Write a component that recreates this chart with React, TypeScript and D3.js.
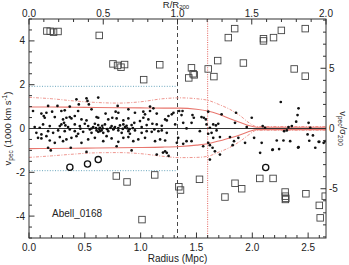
import React from "react";
import * as d3 from "d3";

// ---------- data ----------
const R200 = 1.33; // Mpc
const SIGMA200 = 0.55; // 1000 km/s
const xMaxMpc = 2.66;

const memberR = [
  0.425, 0.515, 0.524, 0.62,
  0.171, 0.255, 0.365, 0.446, 0.536, 0.794, 1.084, 1.114,
  0.036, 0.111, 0.132, 0.156, 0.207, 0.29, 0.32, 0.44, 0.56, 0.686, 0.776, 0.8, 0.89, 0.949, 1.024, 1.039, 1.084, 1.144, 1.249, 1.279, 1.294,
  0.141, 0.231, 0.305, 0.335, 0.365, 0.38, 0.41, 0.47, 0.515, 0.605, 0.62, 0.71, 0.746, 0.785, 0.845, 0.89, 0.994, 1.024, 1.069, 1.219, 1.234,
  0.051, 0.096, 0.126, 0.186, 0.276, 0.29, 0.314, 0.326, 0.35, 0.41, 0.455, 0.5, 0.53, 0.575, 0.59, 0.62, 0.635, 0.656, 0.68, 0.74, 0.77, 0.815, 0.845, 0.86, 0.874, 0.919, 0.943, 1.009, 1.054, 1.105, 1.144, 1.189, 1.309,
  0.60, 0.63, 0.66, 0.70, 0.73, 0.76, 0.80, 0.84, 0.88, 0.90, 0.93, 0.56, 0.46,
  0.066, 0.111, 0.171, 0.216, 0.261, 0.32, 0.365, 0.41, 0.44, 0.485, 0.545, 0.56, 0.605, 0.62, 0.635, 0.65, 0.665, 0.71, 0.755, 0.8, 0.83, 0.89, 0.904, 0.949, 1.009, 1.054, 1.099, 1.123, 1.159, 1.189, 1.234,
  0.081, 0.111, 0.156, 0.186, 0.231, 0.276, 0.305, 0.335, 0.38, 0.425, 0.47, 0.53, 0.59, 0.665, 0.695, 0.74, 0.8, 0.845, 0.89, 0.934, 0.979, 1.039, 1.129, 1.174, 1.219, 1.324,
  0.171, 0.195, 0.374, 0.515, 0.785, 0.919, 1.144, 1.219, 1.234, 1.25, 1.20,
  1.345, 1.375, 1.366, 1.381, 1.336, 1.381, 1.411, 1.464, 1.476, 1.456, 1.411, 1.456,
  1.545, 1.566, 1.584, 1.605, 1.59, 1.62, 1.65, 1.674, 1.695, 1.725, 1.53, 1.635, 1.605, 1.68, 1.71, 1.65,
  1.56, 1.605, 1.62, 1.644, 1.665, 1.62, 1.80, 1.836, 1.824, 1.875, 1.71,
  1.854, 1.845, 1.95, 1.995, 2.016, 1.935, 2.093, 2.114, 2.07, 2.084,
  2.255, 2.414, 2.405, 2.393, 2.354, 2.324, 2.309, 2.285, 2.219, 2.279, 2.339, 2.183, 2.414,
  2.504, 2.519, 2.495, 2.543, 2.594, 2.639, 2.653, 2.564, 2.18, 2.24, 2.41, 2.51, 2.60,
];
const memberV = [
  1.33, 1.38, 1.26, 1.41,
  1.03, 1.03, 1.0, 1.10, 1.10, 1.03, 1.0, 0.92,
  0.80, 0.68, 0.57, 0.72, 0.77, 0.80, 0.83, 0.80, 0.875, 0.68, 0.77, 0.72, 0.875, 0.72, 0.77, 0.645, 0.80, 0.68, 0.57, 0.645, 0.72,
  0.49, 0.52, 0.415, 0.49, 0.52, 0.46, 0.57, 0.415, 0.37, 0.52, 0.49, 0.415, 0.49, 0.46, 0.37, 0.46, 0.34, 0.49, 0.415, 0.415, 0.37,
  0.064, 0.034, 0.187, 0.11, 0.11, 0.187, 0.26, 0.14, 0.064, 0.187, 0.11, 0.217, 0.11, 0.064, 0.217, 0.156, 0.034, 0.125, 0.187, 0.11, 0.064, 0.14, 0.187, 0.064, 0.125, 0.156, 0.26, 0.064, 0.156, 0.217, 0.187, 0.125, 0.187,
  0.02, -0.02, 0.01, -0.03, 0.03, -0.01, 0.02, -0.02, 0.01, -0.03, 0.02, 0.0, -0.01,
  -0.196, -0.27, -0.12, -0.196, -0.089, -0.12, -0.043, -0.12, -0.24, -0.15, -0.043, -0.196, -0.089, -0.15, -0.12, -0.089, -0.196, -0.12, -0.043, -0.089, -0.196, -0.12, -0.24, -0.089, -0.196, -0.12, -0.15, -0.043, -0.12, -0.089, -0.196,
  -0.425, -0.455, -0.35, -0.547, -0.655, -0.39, -0.58, -0.50, -0.425, -0.35, -0.655, -0.50, -0.425, -0.58, -0.35, -0.455, -0.61, -0.425, -0.39, -0.58, -0.50, -0.425, -0.58, -0.50, -0.547, -0.655,
  -0.88, -1.0, -0.88, -1.07, -0.81, -1.0, -1.19, -1.04, -1.11, -1.25, -1.10,
  0.80, 0.80, 0.615, 0.26, -0.425, -0.70, -0.58, 0.615, 0.49, 0.26, 0.003, -0.58,
  0.52, 0.49, 0.415, 0.77, 0.187, 0.034, 0.187, 0.14, 0.217, 0.645, -0.12, -0.196, -0.24, -0.089, -0.39, -0.425,
  -0.81, -0.655, -0.76, -0.88, -1.04, -1.42, -0.39, -0.58, -0.76, -0.425, -1.19,
  0.72, 0.26, 0.064, 0.49, -0.425, -0.655, 0.11, 0.034, -1.11, -0.655,
  1.21, 0.92, 0.615, 0.31, 0.11, 0.064, -0.089, -0.12, -0.547, -0.547, -0.58, -0.96, -0.855,
  0.26, 0.034, -0.27, -0.317, -0.61, -0.655, -0.58, -0.88, -0.98, -0.94, -0.87, -0.56, -0.61,
];

const squareR = [
  0.16, 0.19, 0.22, 0.26, 0.629, 0.752, 0.793, 0.824, 0.856, 1.027, 1.171,
  1.431, 1.455, 1.47, 1.48, 1.605, 1.656, 1.69, 1.785, 1.842, 1.92, 2.1, 2.1, 2.19, 2.26, 2.375, 2.474, 2.474,
  0.782, 0.878, 1.126, 1.012, 1.342, 1.357, 1.527, 1.755, 1.845, 1.905, 2.067, 2.186, 2.294, 2.296, 2.296, 2.3, 2.48, 2.6, 2.608, 2.653,
];
const squareV = [
  4.45, 4.44, 4.4, 4.43, 4.25, 2.95, 2.88, 2.8, 2.92, 2.23, 2.91,
  2.31, 2.77, 2.5, 2.45, 2.72, 2.37, 3.1, 4.15, 4.56, 2.99, 4.1, 4.0, 4.15, 4.48, 2.72, 4.56, 2.39,
  -2.17, -2.44, -2.12, -4.16, -2.66, -2.81, -2.32, -3.13, -2.5, -2.75, -2.28, -2.28, -2.9, -3.09, -3.24, -3.19, -2.98, -3.51, -4.08, -3.09,
];

const circleR = [0.366, 0.524, 0.62, 2.12];
const circleV = [-1.77, -1.62, -1.42, -1.78];

const causticR = [0, 0.2, 0.4, 0.6, 0.8, 1.0, 1.2, 1.35, 1.5, 1.6, 1.7, 1.8, 1.9, 1.97, 2.04, 2.66];
const solidUpper = [0.98, 0.98, 0.97, 0.96, 0.95, 0.94, 0.93, 0.93, 0.88, 0.80, 0.65, 0.45, 0.26, 0.13, 0.06, 0.06];
const solidLower = [-0.92, -0.91, -0.9, -0.89, -0.88, -0.87, -0.85, -0.82, -0.76, -0.70, -0.57, -0.43, -0.27, -0.14, -0.05, -0.05];
const dashUpper = [1.42, 1.36, 1.26, 1.19, 1.16, 1.22, 1.36, 1.40, 1.36, 1.29, 1.10, 0.87, 0.55, 0.26, 0.09, 0.09];
const dashLower = [-1.32, -1.25, -1.17, -1.11, -1.10, -1.15, -1.27, -1.33, -1.32, -1.27, -1.08, -0.86, -0.55, -0.28, -0.08, -0.08];

const sigmaLimit = 3.5; // in sigma200 units
const escapeR = 1.6; // Mpc, red dotted line

const bottomTicks = [0, 0.5, 1.0, 1.5, 2.0, 2.5];
const topTicks = [0, 0.5, 1.0, 1.5, 2.0];
const leftTicks = [-4, -2, 0, 2, 4];
const rightTicks = [-5, 0, 5];

// ---------- layout ----------
const W = 349, H = 265;
const L = 29, Rt = 326, T = 19, B = 238;
const FONT = "'Liberation Sans', Arial, Helvetica, sans-serif";
const AX = "#333";

export default function App() {
  const x = d3.scaleLinear().domain([0, xMaxMpc]).range([L, Rt]);
  const xTop = d3.scaleLinear().domain([0, xMaxMpc / R200]).range([L, Rt]);
  const y = d3.scaleLinear().domain([-5, 5]).range([B, T]);
  const yR = d3.scaleLinear().domain([-5 / SIGMA200, 5 / SIGMA200]).range([B, T]);

  const line = (vals: number[]) =>
    d3.line<number>().x((_, i) => x(causticR[i])).y((d) => y(d)).curve(d3.curveMonotoneX)(vals) || "";

  const near = (a: number, arr: number[]) => arr.some((t) => Math.abs(t - a) < 1e-6);
  const minorBottom = d3.range(0, xMaxMpc + 1e-9, 0.1).filter((t) => !near(Math.round(t * 10) / 10, bottomTicks));
  const minorTop = d3.range(0, 2.0001, 0.1).filter((t) => !near(Math.round(t * 10) / 10, topTicks));
  const minorLeft = d3.range(-5, 5.0001, 0.5).filter((t) => !near(t, leftTicks));
  const minorRight = d3.range(-9, 9.0001, 1).filter((t) => !near(t, rightTicks));

  const redSolid = "#e8766e";
  const redDash = "#ec8a82";
  const sq = 6.5;

  return (
    <svg width={W} height={H} style={{ position: "absolute", left: 0, top: 0, background: "#fff" }} fontFamily={FONT}>
      <defs>
        <clipPath id="plot">
          <rect x={L} y={T} width={Rt - L} height={B - T} />
        </clipPath>
      </defs>
      <rect width={W} height={H} fill="#fff" />

      <g clipPath="url(#plot)">
        {/* 3.5 sigma limits within R200 */}
        {[sigmaLimit, -sigmaLimit].map((s, i) => (
          <line key={"bl" + i} x1={x(0)} x2={x(R200)} y1={y(s * SIGMA200)} y2={y(s * SIGMA200)}
            stroke="#6aa6bd" strokeWidth={1} strokeDasharray="1,1.6" />
        ))}
        {/* zero line */}
        <line x1={L} x2={Rt} y1={y(0)} y2={y(0)} stroke={AX} strokeWidth={1} />
        {/* R200 dashed */}
        <line x1={x(R200)} x2={x(R200)} y1={T} y2={B} stroke={AX} strokeWidth={0.9} strokeDasharray="4,3" />
        {/* red dotted vertical */}
        <line x1={x(escapeR)} x2={x(escapeR)} y1={T} y2={B} stroke="#e4605a" strokeWidth={1} strokeDasharray="1,1.3" />

        {/* caustic curves */}
        <path d={line(solidUpper)} fill="none" stroke={redSolid} strokeWidth={1.1} />
        <path d={line(solidLower)} fill="none" stroke={redSolid} strokeWidth={1.1} />
        <path d={line(dashUpper)} fill="none" stroke={redDash} strokeWidth={0.9} strokeDasharray="3,1.5,1,1.5" />
        <path d={line(dashLower)} fill="none" stroke={redDash} strokeWidth={0.9} strokeDasharray="3,1.5,1,1.5" />

        {/* squares (interlopers) */}
        {squareR.map((r, i) => (
          <rect key={"s" + i} x={x(r) - sq / 2} y={y(squareV[i]) - sq / 2} width={sq} height={sq}
            fill="none" stroke="#444" strokeWidth={0.9} />
        ))}
        {/* members */}
        {memberR.map((r, i) => (
          <circle key={"m" + i} cx={x(r)} cy={y(memberV[i])} r={1.35} fill="#111" />
        ))}
        {/* open circles */}
        {circleR.map((r, i) => (
          <circle key={"c" + i} cx={x(r)} cy={y(circleV[i])} r={3.1} fill="none" stroke="#111" strokeWidth={1.3} />
        ))}
      </g>

      {/* frame */}
      <rect x={L} y={T} width={Rt - L} height={B - T} fill="none" stroke={AX} strokeWidth={1} />

      {/* bottom axis */}
      {bottomTicks.map((t) => (
        <g key={"bt" + t}>
          <line x1={x(t)} x2={x(t)} y1={B} y2={B - 5.5} stroke={AX} />
          <text x={x(t)} y={251} fontSize={10} textAnchor="middle" fill="#222">{t.toFixed(1)}</text>
        </g>
      ))}
      {minorBottom.map((t, i) => (
        <line key={"bm" + i} x1={x(t)} x2={x(t)} y1={B} y2={B - 3} stroke={AX} />
      ))}
      <text x={(L + Rt) / 2} y={262} fontSize={10} textAnchor="middle" fill="#222">Radius (Mpc)</text>

      {/* top axis */}
      {topTicks.map((t) => (
        <g key={"tt" + t}>
          <line x1={xTop(t)} x2={xTop(t)} y1={T} y2={T + 5.5} stroke={AX} />
          <text x={xTop(t)} y={17} fontSize={10} textAnchor="middle" fill="#222">{t.toFixed(1)}</text>
        </g>
      ))}
      {minorTop.map((t, i) => (
        <line key={"tm" + i} x1={xTop(t)} x2={xTop(t)} y1={T} y2={T + 3} stroke={AX} />
      ))}
      <text x={176} y={7.5} fontSize={9.5} textAnchor="middle" fill="#222">
        R/R<tspan fontSize={6} dy={1.5}>200</tspan>
      </text>

      {/* left axis */}
      {leftTicks.map((t) => (
        <g key={"lt" + t}>
          <line x1={L} x2={L + 5.5} y1={y(t)} y2={y(t)} stroke={AX} />
          <text x={25} y={y(t) + 3.5} fontSize={10} textAnchor="end" fill="#222">{t}</text>
        </g>
      ))}
      {minorLeft.map((t, i) => (
        <line key={"lm" + i} x1={L} x2={L + 3} y1={y(t)} y2={y(t)} stroke={AX} />
      ))}
      <text transform={`translate(10.5, ${(T + B) / 2}) rotate(-90)`} fontSize={9.5} textAnchor="middle" fill="#222">
        v<tspan fontSize={6.5} dy={2}>pec</tspan>
        <tspan dy={-2}> (1000 km s</tspan>
        <tspan fontSize={6.5} dy={-3.5}>-1</tspan>
        <tspan dy={3.5}>)</tspan>
      </text>

      {/* right axis */}
      {rightTicks.map((t) => (
        <g key={"rt" + t}>
          <line x1={Rt} x2={Rt - 5.5} y1={yR(t)} y2={yR(t)} stroke={AX} />
          <text x={329} y={yR(t) + 3.5} fontSize={10} textAnchor="start" fill="#222">{t}</text>
        </g>
      ))}
      {minorRight.map((t, i) => (
        <line key={"rm" + i} x1={Rt} x2={Rt - 3} y1={yR(t)} y2={yR(t)} stroke={AX} />
      ))}
      <text transform={`translate(339.5, ${(T + B) / 2}) rotate(90)`} fontSize={9.5} textAnchor="middle" fill="#222">
        v<tspan fontSize={6.5} dy={2}>pec</tspan>
        <tspan dy={-2}>/σ</tspan>
        <tspan fontSize={6.5} dy={2}>200</tspan>
      </text>

      {/* cluster name */}
      <text x={52} y={216.5} fontSize={10} fill="#222">Abell_0168</text>
    </svg>
  );
}
